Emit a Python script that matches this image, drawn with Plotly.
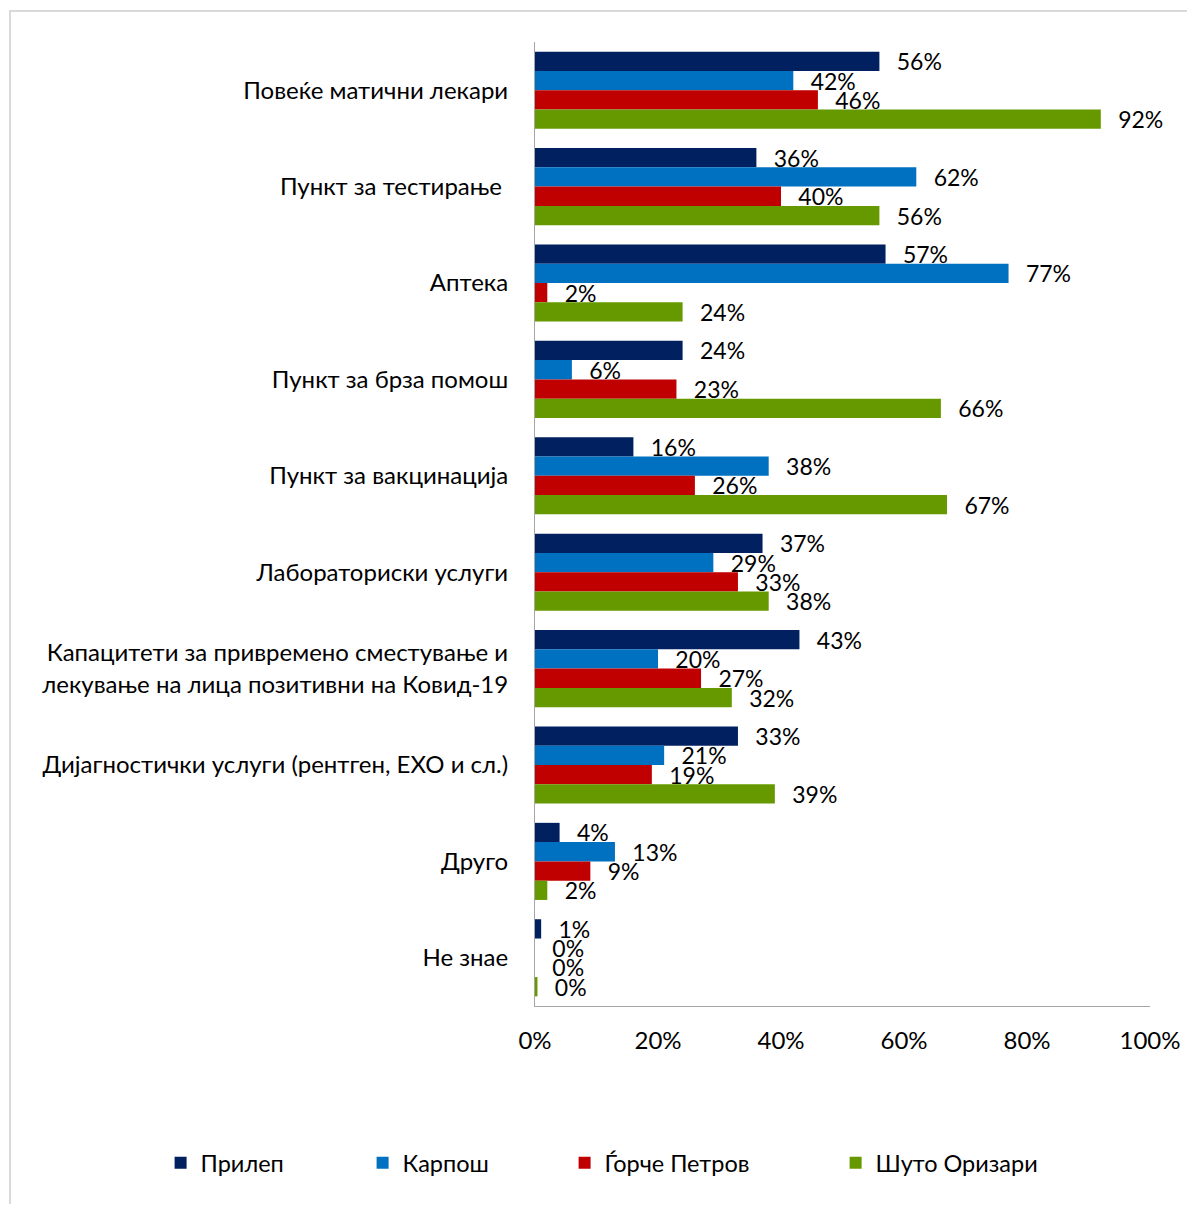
import plotly.graph_objects as go

categories = [
    "Повеќе матични лекари",
    "Пункт за тестирање ",
    "Аптека",
    "Пункт за брза помош",
    "Пункт за вакцинација",
    "Лабораториски услуги",
    "Капацитети за привремено сместување и<br>лекување на лица позитивни на Ковид-19",
    "Дијагностички услуги (рентген, ЕХО и сл.)",
    "Друго",
    "Не знае",
]
series_names = ["Прилеп", "Карпош", "Ѓорче Петров", "Шуто Оризари"]
prilep = [56, 36, 57, 24, 16, 37, 43, 33, 4, 1]
karposh = [42, 62, 77, 6, 38, 29, 20, 21, 13, 0]
gjorche = [46, 40, 2, 23, 26, 33, 27, 19, 9, 0]
shuto = [92, 56, 24, 66, 67, 38, 32, 39, 2, 0.4]
colors = ["#002060", "#0070C0", "#C00000", "#669900"]

FONT = "Lato"
OFF = 8  # page body margin
legend_ids = ["legend", "legend2", "legend3", "legend4"]
legend_symbol_x = [175, 377, 579, 850]

fig = go.Figure()
for name, vals, col, lid in zip(series_names, [prilep, karposh, gjorche, shuto], colors, legend_ids):
    fig.add_trace(go.Bar(
        y=categories, x=vals, name=name, orientation="h",
        marker=dict(color=col, line=dict(width=0)),
        text=[f"\u2002\u2009{round(v)}%" for v in vals],
        textposition="outside", constraintext="none", cliponaxis=False,
        textfont=dict(family=FONT, size=23, color="#000000"),
        legend=lid,
    ))

W, H = 1195 - 2 * OFF, 1212 - 2 * OFF
L = 535 - OFF
Rp = 1150 - OFF
T = 42 - OFF
Bp = 1006 - OFF
pw = Rp - L
ph = Bp - T


def px_x(x):
    return (x - OFF - L) / pw


def px_y(y):
    return (Bp - (y - OFF)) / ph


legends = {}
for lid, sx in zip(legend_ids, legend_symbol_x):
    legends[lid] = dict(orientation="h", x=px_x(sx - 14.4), xanchor="left",
                        y=px_y(1163), yanchor="middle", itemwidth=30,
                        bgcolor="rgba(0,0,0,0)",
                        font=dict(family=FONT, size=23.5, color="#000000"))

fig.update_layout(
    width=W, height=H,
    margin=dict(l=L, r=W - Rp, t=T, b=H - Bp, autoexpand=False),
    barmode="group", bargap=0.2, bargroupgap=0,
    plot_bgcolor="white", paper_bgcolor="white",
    font=dict(family=FONT, size=22, color="#000000"),
    showlegend=True,
    xaxis=dict(range=[0, 100], tickvals=[0, 20, 40, 60, 80, 100],
               ticktext=["0%", "20%", "40%", "60%", "80%", "100%"],
               showgrid=False, zeroline=False, showline=True, automargin=False,
               linecolor="#A6A6A6", linewidth=1, ticks="outside", ticklen=13,
               tickcolor="rgba(0,0,0,0)",
               tickfont=dict(family=FONT, size=24), fixedrange=True),
    yaxis=dict(autorange="reversed", showgrid=False, showline=True, automargin=False,
               linecolor="#A6A6A6", linewidth=1, ticks="outside",
               ticklen=21, tickcolor="rgba(0,0,0,0)",
               tickfont=dict(family=FONT, size=24)),
    shapes=[dict(type="rect", xref="paper", yref="paper",
                 x0=px_x(10), x1=px_x(1230),
                 y0=px_y(1240), y1=px_y(11),
                 line=dict(color="#D9D9D9", width=2), layer="below")],
    **legends,
)
fig.write_html("out.html")
